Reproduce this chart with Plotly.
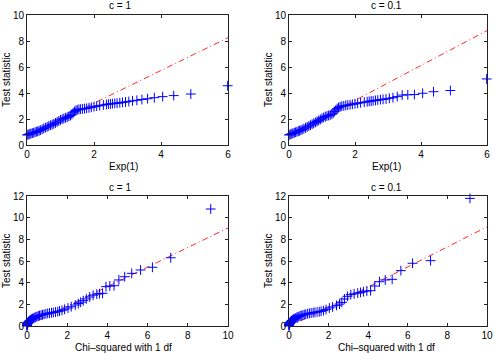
import plotly.graph_objects as go

# quantiles of Exp(1) (top row) and test statistic values
exp_q = [0.00, 0.03, 0.06, 0.09, 0.12, 0.16, 0.20, 0.24, 0.28, 0.32, 0.36, 0.40, 0.45,
         0.50, 0.55, 0.60, 0.65, 0.70, 0.75, 0.80, 0.85, 0.90, 0.95, 1.00, 1.05, 1.10,
         1.15, 1.20, 1.25, 1.30, 1.34, 1.38, 1.42, 1.46, 1.50, 1.55, 1.60, 1.66, 1.72,
         1.78, 1.85, 1.92, 2.00, 2.08, 2.17, 2.28, 2.37, 2.43, 2.49, 2.55, 2.62, 2.69,
         2.77, 2.85, 2.94, 3.04, 3.15, 3.28, 3.43, 3.60, 3.80, 4.05, 4.38, 4.89, 5.99]
ts_exp_c1 = [0.77, 0.80, 0.83, 0.86, 0.88, 0.91, 0.95, 0.98, 1.02, 1.05, 1.09, 1.14, 1.20,
             1.27, 1.33, 1.40, 1.46, 1.52, 1.57, 1.63, 1.70, 1.77, 1.85, 1.93, 1.99, 2.04,
             2.09, 2.14, 2.20, 2.27, 2.36, 2.48, 2.58, 2.66, 2.71, 2.74, 2.76, 2.78, 2.80,
             2.82, 2.86, 2.90, 2.95, 2.99, 3.03, 3.08, 3.12, 3.14, 3.16, 3.18, 3.20, 3.22,
             3.25, 3.28, 3.31, 3.35, 3.40, 3.44, 3.50, 3.56, 3.64, 3.72, 3.80, 3.92, 4.56]
ts_exp_c01 = [0.77, 0.80, 0.84, 0.87, 0.90, 0.94, 0.98, 1.02, 1.06, 1.10, 1.14, 1.19, 1.25,
              1.32, 1.39, 1.46, 1.53, 1.60, 1.67, 1.74, 1.81, 1.89, 1.97, 2.05, 2.12, 2.18,
              2.23, 2.27, 2.31, 2.37, 2.45, 2.57, 2.70, 2.80, 2.88, 2.94, 2.98, 3.01, 3.04,
              3.07, 3.10, 3.13, 3.17, 3.21, 3.25, 3.29, 3.33, 3.36, 3.38, 3.40, 3.43, 3.46,
              3.49, 3.51, 3.54, 3.59, 3.64, 3.72, 3.84, 3.86, 3.88, 3.98, 4.10, 4.19, 5.08]

# quantiles of chi-squared with 1 df (bottom row)
chi_q = [0.00, 0.002, 0.006, 0.012, 0.02, 0.03, 0.045, 0.06, 0.08, 0.10, 0.125, 0.15, 0.18,
         0.21, 0.24, 0.27, 0.31, 0.35, 0.40, 0.45, 0.50, 0.56, 0.62, 0.70, 0.77, 0.85, 0.94,
         1.03, 1.12, 1.22, 1.31, 1.42, 1.53, 1.62, 1.74, 1.87, 2.04, 2.20, 2.40, 2.55, 2.67,
         2.80, 2.95, 3.12, 3.29, 3.47, 3.61, 3.76, 3.93, 4.12, 4.33, 4.57, 4.86, 5.21, 5.65,
         6.24, 7.15, 9.14]
ts_chi_c1 = [0.00, 0.05, 0.10, 0.16, 0.21, 0.26, 0.31, 0.35, 0.40, 0.44, 0.48, 0.52, 0.56,
             0.60, 0.64, 0.67, 0.71, 0.75, 0.80, 0.84, 0.88, 0.92, 0.96, 1.00, 1.04, 1.08, 1.12,
             1.16, 1.19, 1.22, 1.25, 1.29, 1.33, 1.38, 1.45, 1.54, 1.66, 1.78, 1.94, 2.07, 2.20,
             2.34, 2.50, 2.68, 2.84, 2.94, 2.99, 3.02, 3.63, 3.69, 3.72, 4.25, 4.55, 4.86, 5.17,
             5.42, 6.30, 10.80]
ts_chi_c01 = [0.00, 0.05, 0.10, 0.15, 0.20, 0.25, 0.30, 0.34, 0.39, 0.43, 0.47, 0.51, 0.55,
              0.59, 0.62, 0.66, 0.70, 0.74, 0.79, 0.84, 0.88, 0.93, 0.97, 1.01, 1.05, 1.09, 1.13,
              1.17, 1.20, 1.23, 1.26, 1.29, 1.32, 1.36, 1.42, 1.52, 1.66, 1.76, 1.90, 2.02, 2.18,
              2.50, 2.74, 2.90, 2.97, 3.04, 3.10, 3.17, 3.23, 3.26, 3.69, 4.09, 4.25, 4.31, 5.11,
              5.79, 6.03, 11.78]

# reference lines (end points)
ref_exp_x = [0, 6]
ref_exp_c1 = [0.70, 8.25]
ref_exp_c01 = [0.75, 8.80]
ref_chi_x = [0, 10]
ref_chi_c1 = [0.02, 9.05]
ref_chi_c01 = [-0.08, 9.15]

W, H = 494, 353
FONT = 'Liberation Sans, Arial, Helvetica, sans-serif'

panels = [
    # x data, y data, ref x, ref y, title, xlabel, x range, y range, px box (x0, x1, ytop, ybot)
    (exp_q, ts_exp_c1, ref_exp_x, ref_exp_c1, 'c = 1', 'Exp(1)', [0, 6], [0, 10], (27, 228, 15, 145)),
    (exp_q, ts_exp_c01, ref_exp_x, ref_exp_c01, 'c = 0.1', 'Exp(1)', [0, 6], [0, 10], (289, 487, 15, 145)),
    (chi_q, ts_chi_c1, ref_chi_x, ref_chi_c1, 'c = 1', 'Chi\u2013squared with 1 df', [0, 10], [0, 12], (27, 228, 196, 326)),
    (chi_q, ts_chi_c01, ref_chi_x, ref_chi_c01, 'c = 0.1', 'Chi\u2013squared with 1 df', [0, 10], [0, 12], (289, 487, 196, 326)),
]


def px(x):
    return x / W


def py(y):
    return 1 - y / H


def label(text, x, y, angle=0):
    return dict(text=text, x=px(x), y=py(y), xref='paper', yref='paper', showarrow=False,
                xanchor='center', yanchor='middle', textangle=angle,
                font=dict(family=FONT, size=10, color='black'))


fig = go.Figure()
annots = []
for i, (xd, yd, rx, ry, title, xlab, xr, yr, box) in enumerate(panels):
    n = '' if i == 0 else str(i + 1)
    x0, x1, yt, yb = box
    fig.add_trace(go.Scatter(x=rx, y=ry, mode='lines', xaxis='x' + n, yaxis='y' + n,
                             line=dict(color='rgb(255,40,40)', width=1, dash='6px,3px,1px,3px'),
                             showlegend=False, hoverinfo='skip'))
    fig.add_trace(go.Scatter(x=xd, y=yd, mode='markers', xaxis='x' + n, yaxis='y' + n,
                             marker=dict(symbol='cross-thin', size=7, line=dict(color='blue', width=1)),
                             cliponaxis=False, showlegend=False))
    ax = dict(showgrid=False, zeroline=False, showline=True, linecolor='#222', linewidth=1,
              mirror='ticks', ticks='inside', ticklen=3, tickcolor='#222', automargin=False,
              tickfont=dict(family=FONT, size=10, color='black'))
    fig.update_layout(**{
        'xaxis' + n: dict(ax, domain=[px(x0), px(x1)], range=xr, dtick=2, anchor='y' + n),
        'yaxis' + n: dict(ax, domain=[py(yb), py(yt)], range=yr, dtick=2, anchor='x' + n),
    })
    cx = (x0 + x1) / 2
    annots.append(label(title, cx - (8 if x0 < 100 else 2), yt - 9))
    annots.append(label(xlab, cx - (4 if x0 < 100 else 2), yb + 21))
    annots.append(label('Test statistic', x0 - 21, (yt + yb) / 2, -90))

fig.update_layout(width=W, height=H, margin=dict(l=0, r=0, t=0, b=0),
                  paper_bgcolor='white', plot_bgcolor='white', annotations=annots,
                  font=dict(family=FONT, size=10, color='black'))
# drop the default 8px page margin so the figure fills the window exactly
fig.write_html('out.html', config={'displayModeBar': False},
               post_script="document.body.style.margin='0';")
